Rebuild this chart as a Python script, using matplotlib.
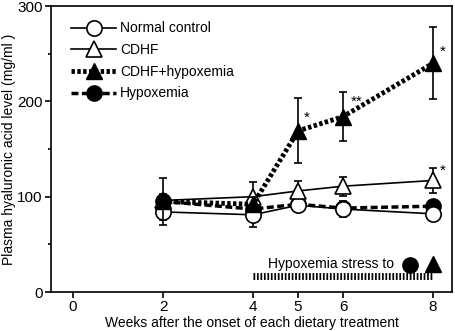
import matplotlib
matplotlib.use("Agg")
import matplotlib.pyplot as plt
from matplotlib.lines import Line2D

plt.rcParams['font.family'] = ['Liberation Sans', 'DejaVu Sans']

weeks = [2, 4, 5, 6, 8]

normal = [84, 81, 91, 87, 82]
normal_err = [8, 13, 5, 8, 6]
cdhf = [96, 100, 106, 111, 117]
cdhf_err = [6, 15, 10, 10, 13]
cdhf_hyp = [95, 92, 169, 184, 240]
cdhf_hyp_err = [25, 8, 34, 26, 38]
hypox = [95, 87, 92, 88, 90]
hypox_err = [8, 6, 4, 5, 5]

stress_start, stress_end = 4, 8

fig = plt.figure(figsize=(4.56, 3.31), dpi=100)
ax = fig.add_axes([51/456, 39/331, 401/456, 286/331])

ekw = dict(ecolor='black', elinewidth=1.2, capsize=3, capthick=1.2)

styles = {
    'Normal control': dict(lw=1.2, ls='-', marker='o', mfc='white', mew=1.2),
    'CDHF': dict(lw=1.2, ls='-', marker='^', mfc='white', mew=1.2),
    'CDHF+hypoxemia': dict(lw=3.5, ls=(0, (0.7, 0.5)), marker='^', mfc='black'),
    'Hypoxemia': dict(lw=2.5, ls=(0, (2, 1)), marker='o', mfc='black'),
}

ax.errorbar(weeks, normal, yerr=normal_err, color='black', ms=11, mec='black',
            zorder=3, **styles['Normal control'], **ekw)
ax.errorbar(weeks, cdhf, yerr=cdhf_err, color='black', ms=11, mec='black',
            zorder=3, **styles['CDHF'], **ekw)
ax.errorbar(weeks, cdhf_hyp, yerr=cdhf_hyp_err, color='black', ms=11, mec='black',
            zorder=4, **styles['CDHF+hypoxemia'], **ekw)
ax.errorbar(weeks, hypox, yerr=hypox_err, color='black', ms=11, mec='black',
            zorder=2, **styles['Hypoxemia'], **ekw)

# significance marks
ax.text(5.2, 183, '*', fontsize=11, ha='center', va='center')
ax.text(6.3, 200, '**', fontsize=11, ha='center', va='center')
ax.text(8.22, 252, '*', fontsize=11, ha='center', va='center')
ax.text(8.22, 127, '*', fontsize=11, ha='center', va='center')

# hypoxemia stress bar
ax.plot([stress_start, stress_end], [17, 17], color='black', lw=5,
        ls=(0, (0.25, 0.25)), solid_capstyle='butt')
ax.text(5.74, 29, 'Hypoxemia stress to', fontsize=10, ha='center', va='center')
ax.plot([7.49], [28], marker='o', ms=11, color='black', ls='none')
ax.plot([8.0], [29], marker='^', ms=12, color='black', ls='none')

ax.set_xlim(-0.49, 8.42)
ax.set_ylim(0, 300)
ax.set_xticks([0, 2, 4, 5, 6, 8])
ax.set_yticks([0, 100, 200, 300])
ax.set_yticks([50, 150, 250], minor=True)
ax.tick_params(axis='both', labelsize=11, width=1.2, length=4, pad=2)
ax.tick_params(axis='y', which='minor', width=1.2, length=2.5)
for s in ax.spines.values():
    s.set_linewidth(1.2)

ax.set_xlabel('Weeks after the onset of each dietary treatment', fontsize=10, labelpad=1)
ax.set_ylabel('Plasma hyaluronic acid level (mg/ml )', fontsize=10, labelpad=1)

handles = [Line2D([], [], color='black', ms=11, mec='black', **st) for st in styles.values()]
leg = ax.legend(handles, list(styles.keys()), loc='upper left',
                bbox_to_anchor=(0.03, 0.975), frameon=False,
                fontsize=10, handlelength=3.2, handletextpad=0.3,
                labelspacing=0.55, borderaxespad=0.2)

fig.savefig('out.png', dpi=100)
